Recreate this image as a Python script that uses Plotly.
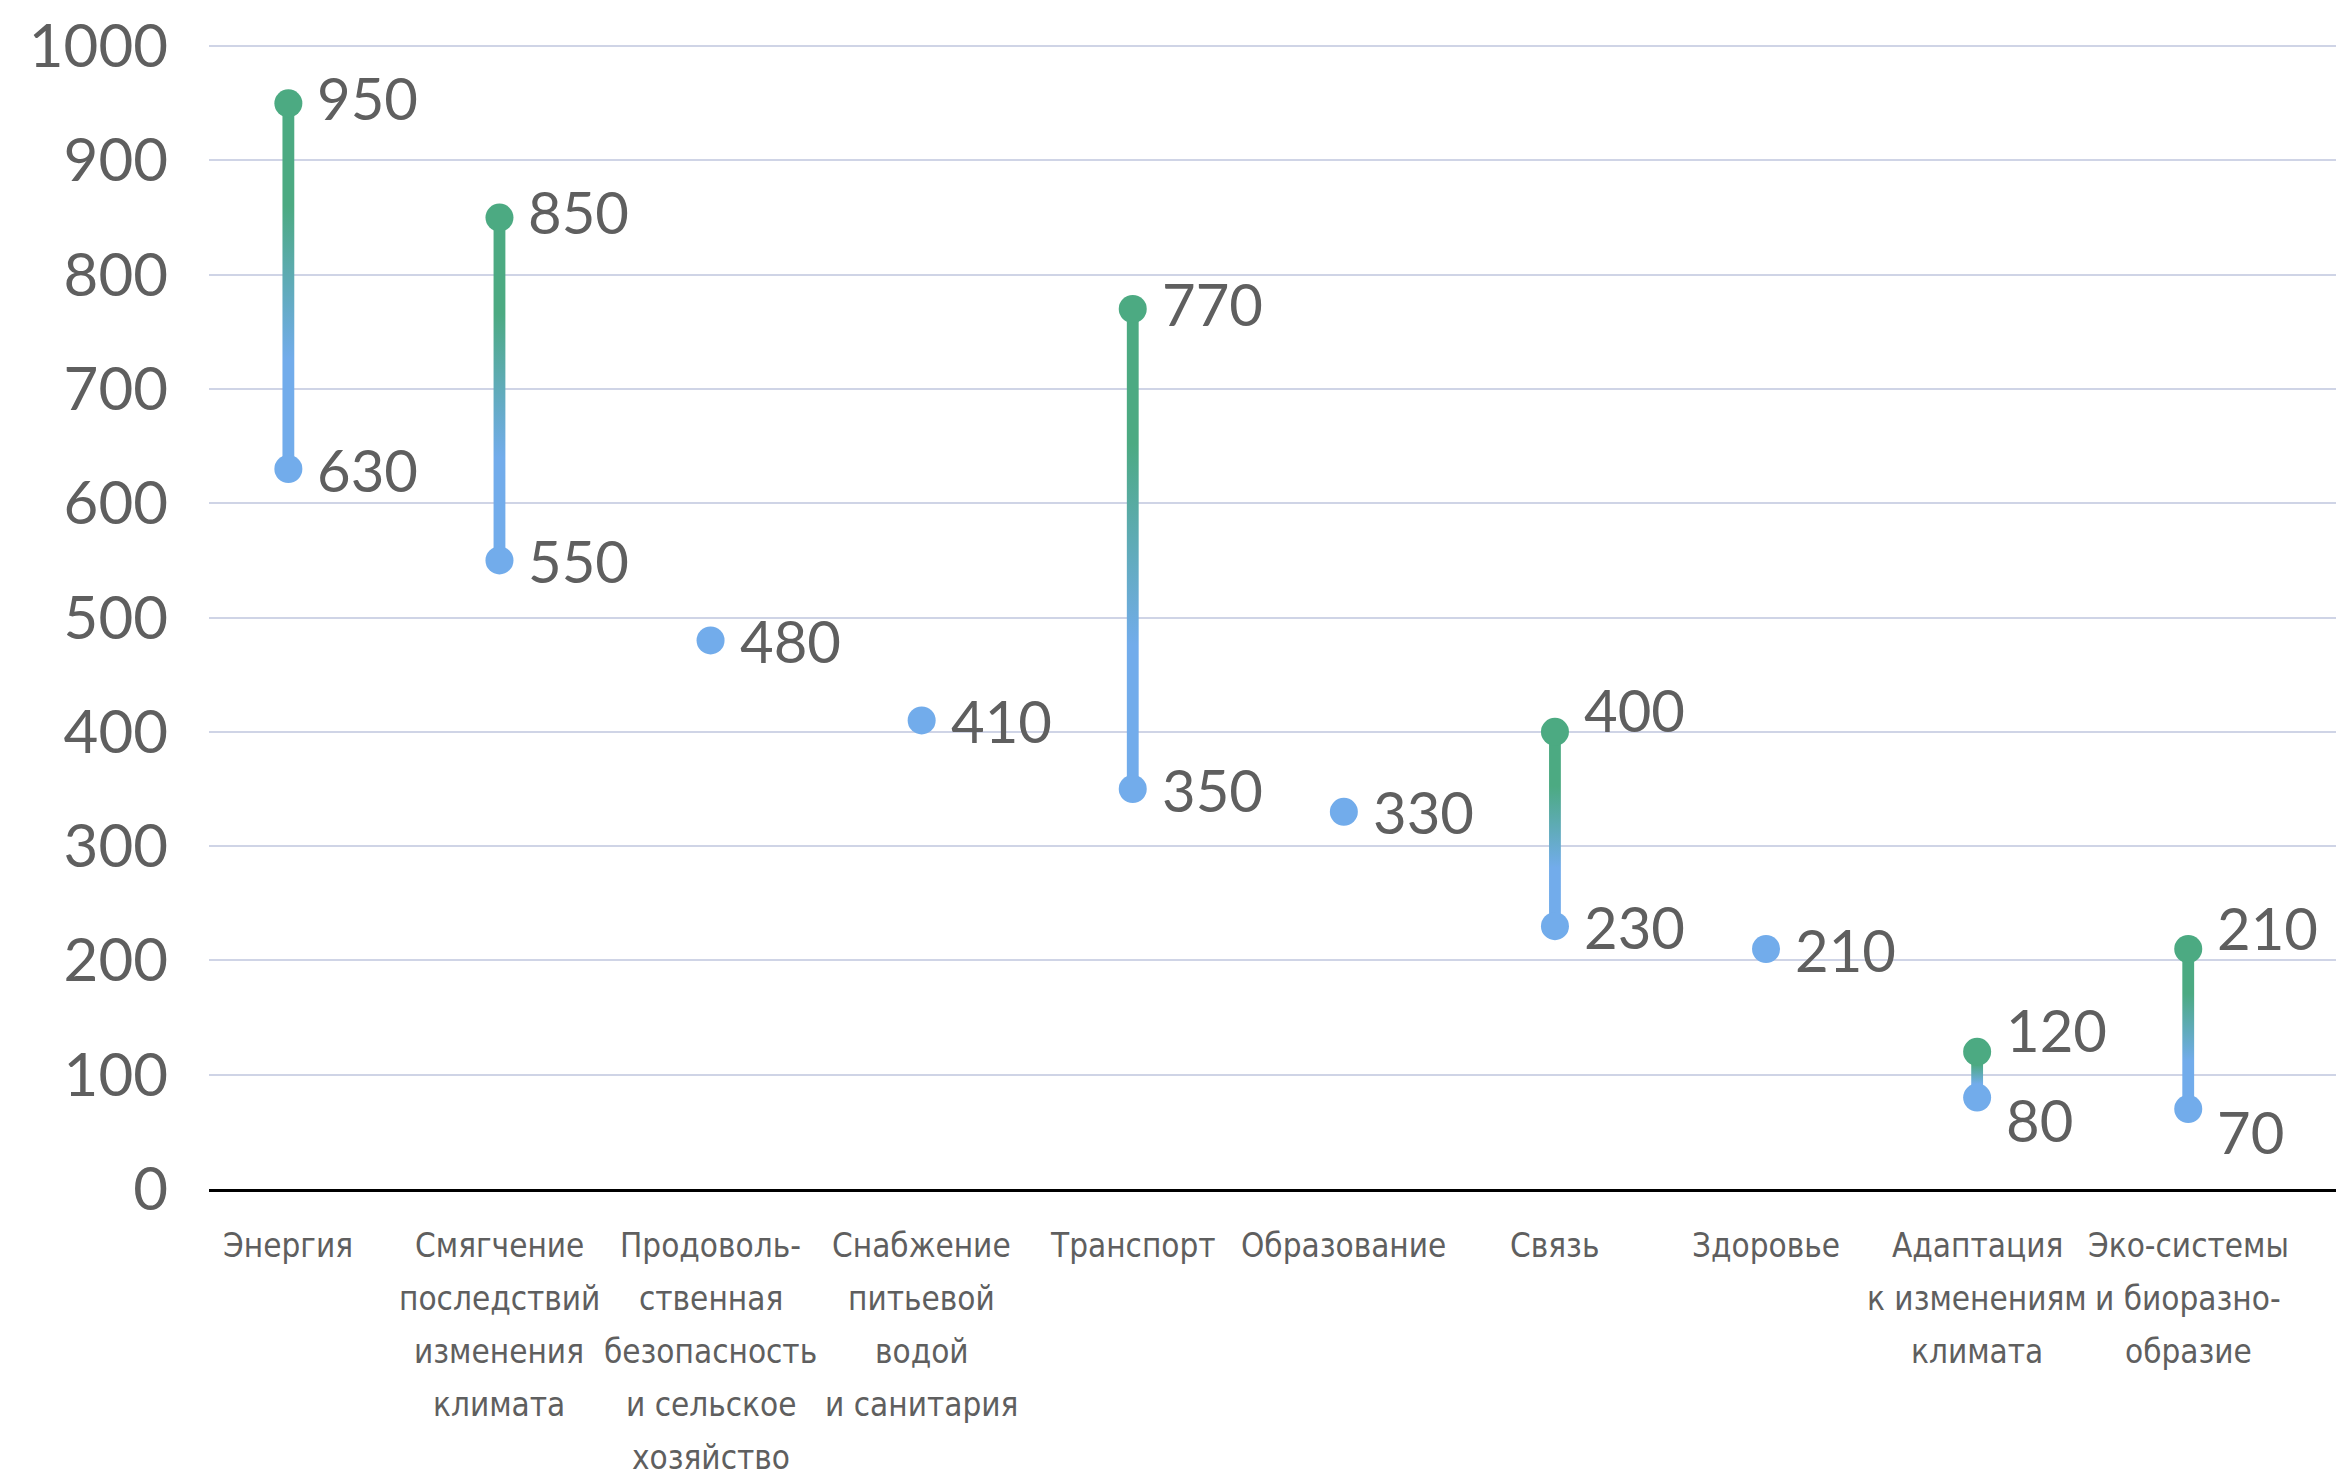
import plotly.graph_objects as go

categories = [
    "Энергия",
    "Смягчение<br>последствий<br>изменения<br>климата",
    "Продоволь-<br>ственная<br>безопасность<br>и сельское<br>хозяйство",
    "Снабжение<br>питьевой<br>водой<br>и санитария",
    "Транспорт",
    "Образование",
    "Связь",
    "Здоровье",
    "Адаптация<br>к изменениям<br>климата",
    "Эко-системы<br>и биоразно-<br>образие",
]
high_values = [950, 850, None, None, 770, None, 400, None, 120, 210]
low_values = [630, 550, 480, 410, 350, 330, 230, 210, 80, 70]
y_ticks = [0, 100, 200, 300, 400, 500, 600, 700, 800, 900, 1000]

GREEN = "#4caa82"
BLUE = "#72aceb"
TEXT = "#5f5f5f"
NUM_FONT = "Lato, Open Sans, sans-serif"
CAT_FONT = "Liberation Sans Narrow, DejaVu Sans Condensed, sans-serif"

idx = list(range(len(categories)))
half_w = 0.028

fig = go.Figure()

# gradient stems
for i, (hi, lo) in enumerate(zip(high_values, low_values)):
    if hi is None:
        continue
    fig.add_trace(go.Scatter(
        x=[i - half_w, i + half_w, i + half_w, i - half_w, i - half_w],
        y=[lo, lo, hi, hi, lo],
        mode="lines", line=dict(width=0), fill="toself",
        fillgradient=dict(type="vertical", start=lo, stop=hi,
                          colorscale=[[0, BLUE], [0.3, BLUE], [0.72, GREEN], [1, GREEN]]),
        hoverinfo="skip", showlegend=False,
    ))

# markers
hx = [i for i, v in zip(idx, high_values) if v is not None]
hy = [v for v in high_values if v is not None]
fig.add_trace(go.Scatter(x=idx, y=low_values, mode="markers",
                         marker=dict(size=28, color=BLUE), showlegend=False))
fig.add_trace(go.Scatter(x=hx, y=hy, mode="markers",
                         marker=dict(size=28, color=GREEN), showlegend=False))

# value labels
lab_font = dict(family=NUM_FONT, size=58, color=TEXT)
for i, (hi, lo) in enumerate(zip(high_values, low_values)):
    if hi is not None:
        close = (hi - lo) < 200
        fig.add_annotation(x=i, y=hi, text=str(hi), showarrow=False, xanchor="left",
                           xshift=27, yshift=22 if close else 6, font=lab_font)
        fig.add_annotation(x=i, y=lo, text=str(lo), showarrow=False, xanchor="left",
                           xshift=27, yshift=-22 if (hi - lo) < 150 else 0, font=lab_font)
    else:
        fig.add_annotation(x=i, y=lo, text=str(lo), showarrow=False, xanchor="left",
                           xshift=27, yshift=0, font=lab_font)

# category labels (one line per annotation for the wide line spacing)
cat_font = dict(family=CAT_FONT, size=33, color=TEXT)
for i, label in enumerate(categories):
    for k, line in enumerate(label.split("<br>")):
        fig.add_annotation(x=i, xref="x", y=0, yref="paper", text=line, showarrow=False,
                           xanchor="center", yanchor="middle", yshift=-(56 + 53 * k),
                           font=cat_font)

fig.update_layout(
    width=2345, height=1484,
    margin=dict(l=209, r=9, t=45, b=295),
    paper_bgcolor="white", plot_bgcolor="white",
    showlegend=False,
    xaxis=dict(
        range=[-0.376, 9.70], tickmode="array", tickvals=idx,
        showticklabels=False,
        showgrid=False, zeroline=False, showline=True, linecolor="black", linewidth=3,
        ticks="",
    ),
    yaxis=dict(
        range=[0, 1001], tickmode="array", tickvals=y_ticks,
        showgrid=True, gridcolor="#cfd4e6", gridwidth=2,
        zeroline=False, showline=False, ticks="", ticklabelstandoff=40,
        tickfont=dict(family=NUM_FONT, size=60, color=TEXT),
    ),
)

fig.write_html("out.html")
